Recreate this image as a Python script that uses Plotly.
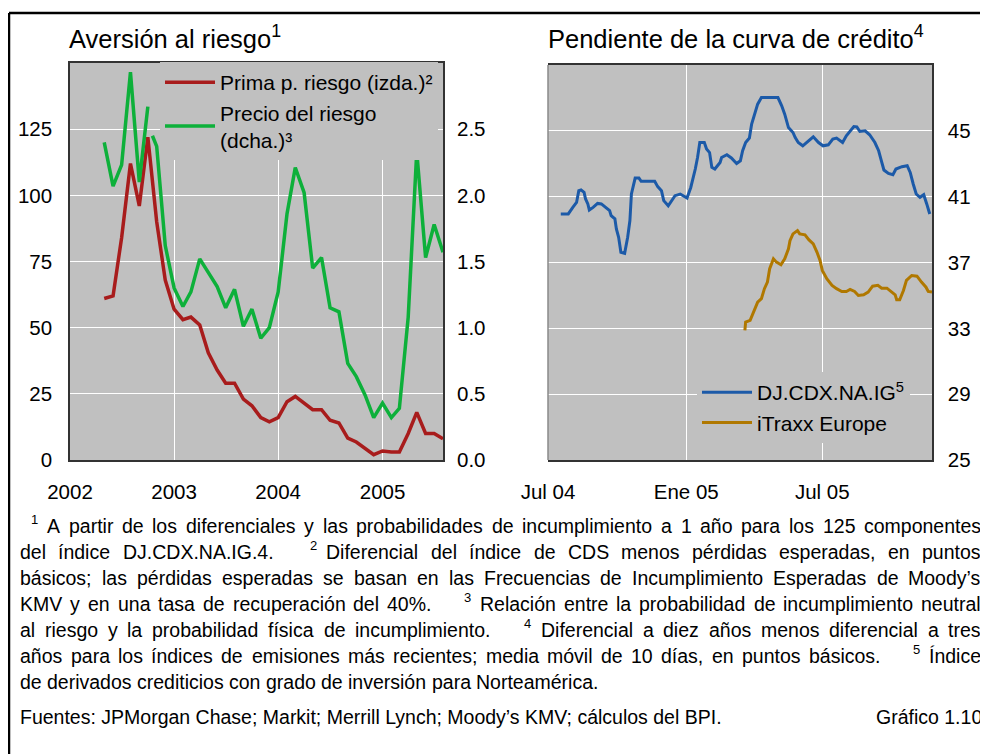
import pandas as pd
import plotly.graph_objects as go

W, H = 988, 754
FONT = "Liberation Sans, Arial, sans-serif"
PAGE_OFFSET = 8  # the page body adds an 8px margin around the figure

# --- Aversión al riesgo (monthly, May 2002 - Aug 2005) ---
risk_months = pd.date_range("2002-05-01", "2005-08-01", freq="MS")
prima_riesgo = [61, 62, 84, 112, 96, 122, 90, 68, 57, 53, 54, 51, 40.5, 34, 29, 29,
                23, 20.5, 16, 14.4, 16, 22, 24, 21.6, 19, 19, 15, 14, 8.3, 6.8, 4.5, 2,
                3.4, 3, 3, 10, 18, 10, 10, 8]
precio_riesgo = [2.40, 2.07, 2.23, 2.93, 2.10, 2.67, 2.37, 1.62, 1.30, 1.16, 1.27, 1.52,
                 1.42, 1.31, 1.15, 1.29, 1.01, 1.14, 0.92, 1.00, 1.27, 1.86, 2.21, 2.02,
                 1.45, 1.53, 1.15, 1.12, 0.73, 0.63, 0.49, 0.32, 0.43, 0.32, 0.39, 1.08,
                 2.33, 1.53, 1.78, 1.57]
# short break in the green series in Oct 2002
precio_extra_dates = ["2002-10-09", "2002-10-17"]
precio_extra = [None, 2.45]

# --- Pendiente de la curva de crédito (10-day moving average) ---
cdx_dates = ["2004-07-18", "2004-07-28", "2004-08-03", "2004-08-08", "2004-08-11", "2004-08-14",
             "2004-08-18", "2004-08-20", "2004-08-23", "2004-08-25", "2004-08-30", "2004-09-05",
             "2004-09-10", "2004-09-15", "2004-09-21", "2004-09-23", "2004-09-28", "2004-09-30",
             "2004-10-03", "2004-10-06", "2004-10-11", "2004-10-15", "2004-10-18", "2004-10-20",
             "2004-10-23", "2004-10-25", "2004-10-30", "2004-11-02", "2004-11-20", "2004-11-24",
             "2004-11-29", "2004-12-02", "2004-12-08", "2004-12-17", "2004-12-24", "2005-01-02",
             "2005-01-07", "2005-01-10", "2005-01-13", "2005-01-16", "2005-01-19", "2005-01-25",
             "2005-01-28", "2005-02-01", "2005-02-04", "2005-02-08", "2005-02-15", "2005-02-17",
             "2005-02-24", "2005-03-02", "2005-03-09", "2005-03-14", "2005-03-17", "2005-03-21",
             "2005-03-26", "2005-03-29", "2005-04-02", "2005-04-06", "2005-04-11", "2005-05-03",
             "2005-05-08", "2005-05-12", "2005-05-17", "2005-05-23", "2005-05-26", "2005-05-30",
             "2005-06-05", "2005-06-12", "2005-06-19", "2005-06-26", "2005-07-02", "2005-07-09",
             "2005-07-15", "2005-07-20", "2005-07-28", "2005-08-02", "2005-08-07", "2005-08-12",
             "2005-08-16", "2005-08-20", "2005-08-27", "2005-09-02", "2005-09-09", "2005-09-14",
             "2005-09-17", "2005-09-21", "2005-09-27", "2005-10-03", "2005-10-07", "2005-10-15",
             "2005-10-22", "2005-10-26", "2005-10-30", "2005-11-03", "2005-11-08", "2005-11-13",
             "2005-11-17", "2005-11-21"]
cdx_values = [39.95, 39.95, 40.35, 40.65, 41.36, 41.41, 41.26, 40.86, 40.56, 40.19, 40.35, 40.59,
              40.56, 40.35, 40.15, 39.85, 39.65, 39.04, 38.53, 37.62, 37.56, 38.53, 39.55, 41.16,
              41.77, 42.13, 42.13, 41.93, 41.93, 41.61, 41.36, 40.76, 40.45, 41.06, 41.16, 40.92,
              41.56, 42.07, 42.68, 43.38, 44.29, 44.29, 43.89, 43.68, 42.78, 42.68, 43.08, 43.38,
              43.55, 43.35, 43.02, 43.18, 43.79, 44.29, 44.56, 45.41, 46.01, 46.62, 47.02, 47.02,
              46.52, 46.01, 45.20, 44.90, 44.59, 44.29, 44.09, 44.39, 44.64, 44.29, 44.09, 44.15,
              44.50, 44.56, 44.29, 44.70, 45.00, 45.26, 45.24, 44.96, 45.00, 44.76, 44.29, 43.79,
              43.28, 42.62, 42.41, 42.33, 42.68, 42.82, 42.88, 42.47, 41.77, 41.16, 40.96, 41.12,
              40.56, 39.95]
itraxx_dates = ["2005-03-20", "2005-03-21", "2005-03-27", "2005-03-31", "2005-04-06", "2005-04-11",
                "2005-04-15", "2005-04-19", "2005-04-22", "2005-04-27", "2005-05-01", "2005-05-07",
                "2005-05-12", "2005-05-17", "2005-05-19", "2005-05-23", "2005-05-29", "2005-06-01",
                "2005-06-08", "2005-06-13", "2005-06-19", "2005-06-24", "2005-06-28", "2005-07-01",
                "2005-07-07", "2005-07-14", "2005-07-20", "2005-07-27", "2005-08-02", "2005-08-07",
                "2005-08-13", "2005-08-18", "2005-08-25", "2005-08-31", "2005-09-06", "2005-09-13",
                "2005-09-18", "2005-09-25", "2005-10-01", "2005-10-06", "2005-10-08", "2005-10-12",
                "2005-10-17", "2005-10-21", "2005-10-28", "2005-11-04", "2005-11-10", "2005-11-16",
                "2005-11-19", "2005-11-24"]
itraxx_values = [32.88, 33.38, 33.48, 33.89, 34.59, 34.80, 35.41, 35.81, 36.62, 37.22, 37.02, 36.86,
                 37.22, 37.83, 38.33, 38.74, 38.94, 38.74, 38.68, 38.39, 38.13, 37.62, 37.12, 36.52,
                 36.01, 35.61, 35.41, 35.24, 35.24, 35.36, 35.24, 35.00, 35.04, 35.20, 35.56, 35.61,
                 35.44, 35.44, 35.20, 35.04, 34.74, 34.74, 35.30, 35.91, 36.21, 36.17, 35.81, 35.50,
                 35.24, 35.20]

left_ticks = ["2002-01-01", "2003-01-01", "2004-01-01", "2005-01-01"]
left_ticktext = ["2002", "2003", "2004", "2005"]
right_ticks = ["2004-07-01", "2005-01-01", "2005-07-01"]
right_ticktext = ["Jul 04", "Ene 05", "Jul 05"]

footnote_lines = [
    "^1 A partir de los diferenciales y las probabilidades de incumplimiento a 1 año para los 125 componentes",
    "del índice DJ.CDX.NA.IG.4. ^2 Diferencial del índice de CDS menos pérdidas esperadas, en puntos",
    "básicos; las pérdidas esperadas se basan en las Frecuencias de Incumplimiento Esperadas de Moody’s",
    "KMV y en una tasa de recuperación del 40%. ^3 Relación entre la probabilidad de incumplimiento neutral",
    "al riesgo y la probabilidad física de incumplimiento. ^4 Diferencial a diez años menos diferencial a tres",
    "años para los índices de emisiones más recientes; media móvil de 10 días, en puntos básicos. ^5 Índice",
    "de derivados crediticios con grado de inversión para Norteamérica.",
]
sources = "Fuentes: JPMorgan Chase; Markit; Merrill Lynch; Moody’s KMV; cálculos del BPI."
chart_no = "Gráfico 1.10"

# Arial / Liberation Sans advance widths (1/1000 em), used to justify the notes
_groups = {
    191: "'", 222: "ijl’", 278: " .,;:!fIt/íÍ", 333: "()-r", 500: "cksvxyzJ",
    556: "abdeghnopqu0123456789áéóúñL", 611: "FTZ", 667: "ABEKPSVXY",
    722: "CDHNRUw", 778: "GOQ", 833: "mM", 889: "%", 944: "W",
}
CHAR_W = {c: w for w, chars in _groups.items() for c in chars}


def text_w(s, size):
    return sum(CHAR_W.get(c, 556) for c in s) * size / 1000.0


def px(x):
    # screen pixel -> paper fraction
    return (x - PAGE_OFFSET) / W


def py(y):
    return 1 - (y - PAGE_OFFSET) / H


months = list(risk_months)
precio = pd.Series(precio_riesgo, index=months, dtype="float")
precio = pd.concat([precio, pd.Series(precio_extra, index=pd.to_datetime(precio_extra_dates), dtype="float")]).sort_index()

fig = go.Figure()
fig.add_trace(go.Scatter(x=months, y=prima_riesgo, mode="lines", name="Prima p. riesgo (izda.)²",
                         line=dict(color="#a81c1c", width=3.5), xaxis="x", yaxis="y", legend="legend"))
fig.add_trace(go.Scatter(x=precio.index, y=precio.values, mode="lines", name="Precio del riesgo<br>(dcha.)³",
                         line=dict(color="#0db03a", width=3.5), connectgaps=False,
                         xaxis="x", yaxis="y2", legend="legend"))
fig.add_trace(go.Scatter(x=cdx_dates, y=cdx_values, mode="lines", name="DJ.CDX.NA.IG<sup>5</sup>",
                         line=dict(color="#1c5aa8", width=3), xaxis="x2", yaxis="y3", legend="legend2"))
fig.add_trace(go.Scatter(x=itraxx_dates, y=itraxx_values, mode="lines", name="iTraxx Europe",
                         line=dict(color="#b07800", width=3), xaxis="x2", yaxis="y3", legend="legend2"))

tick_font = dict(family=FONT, size=20.5, color="#000")
axis_common = dict(showline=True, linecolor="#333", linewidth=1.5, mirror=True, ticks="",
                   gridcolor="#ffffff", gridwidth=1, zeroline=False, tickfont=tick_font,
                   automargin=False)

fig.update_layout(
    width=W, height=H, autosize=False,
    margin=dict(l=0, r=0, t=0, b=0, pad=0, autoexpand=False),
    paper_bgcolor="#ffffff", plot_bgcolor="#c0c0c0",
    font=dict(family=FONT, color="#000"),
    xaxis=dict(domain=[px(70), px(443)], anchor="y", type="date",
               range=["2002-01-01", "2005-08-01"], tickvals=left_ticks, ticktext=left_ticktext,
               showgrid=True, ticklabelstandoff=13, **axis_common),
    yaxis=dict(domain=[py(460), py(63)], anchor="x", range=[0, 150],
               tickvals=[0, 25, 50, 75, 100, 125], showgrid=True, ticklabelstandoff=12, **axis_common),
    yaxis2=dict(overlaying="y", anchor="x", side="right", range=[0, 3],
                tickvals=[0, 0.5, 1.0, 1.5, 2.0, 2.5], tickformat=".1f", showgrid=False,
                showline=False, zeroline=False, ticks="", tickfont=tick_font, ticklabelstandoff=13,
                automargin=False),
    xaxis2=dict(domain=[px(548), px(932)], anchor="y3", type="date",
                range=["2004-07-01", "2005-11-24"], tickvals=right_ticks, ticktext=right_ticktext,
                showgrid=True, ticklabelstandoff=13, **axis_common),
    yaxis3=dict(domain=[py(460), py(65)], anchor="x2", side="right", range=[25, 49],
                tickvals=[25, 29, 33, 37, 41, 45], showgrid=True, ticklabelstandoff=10,
                **{**axis_common, "mirror": False}),
    legend=dict(x=px(160), y=py(62), xanchor="left", yanchor="top", bgcolor="#c0c0c0",
                font=dict(family=FONT, size=21), itemwidth=50, tracegroupgap=0),
    legend2=dict(x=px(697), y=py(372), xanchor="left", yanchor="top", bgcolor="#c0c0c0",
                 font=dict(family=FONT, size=21), itemwidth=50, tracegroupgap=0),
    showlegend=True,
)

# lighter left edge of the right panel
fig.add_shape(type="line", xref="x2 domain", yref="y3 domain", x0=0, x1=0, y0=0, y1=1,
              line=dict(color="#8a8a8a", width=1.5))

# outer frame (top and left rules)
fig.add_shape(type="line", xref="paper", yref="paper", x0=px(9), x1=1, y0=py(13), y1=py(13),
              line=dict(color="#000", width=2.5))
fig.add_shape(type="line", xref="paper", yref="paper", x0=px(9), x1=px(9), y0=py(13), y1=0,
              line=dict(color="#000", width=2.5))

ann = dict(xref="paper", yref="paper", showarrow=False, borderpad=0, borderwidth=0)
fig.add_annotation(text="Aversión al riesgo<sup>1</sup>", x=px(69), y=py(37), xanchor="left",
                   yanchor="middle", font=dict(family=FONT, size=25.5), **ann)
fig.add_annotation(text="Pendiente de la curva de crédito<sup>4</sup>", x=px(548), y=py(37),
                   xanchor="left", yanchor="middle", font=dict(family=FONT, size=25.5), **ann)

# justified footnotes, one annotation per word
FOOT_SIZE = 19.5
SUP_SIZE = 13
FOOT_Y = [526, 552, 578, 604, 630, 656, 682]
FOOT_X0 = [31, 20, 20, 20, 20, 20, 20]
FOOT_X1 = 981
SUP_GAP = 9
SUP_LEAD = 24
for i, line in enumerate(footnote_lines):
    toks = line.split(" ")
    widths = [text_w(t[1:], SUP_SIZE) if t.startswith("^") else text_w(t, FOOT_SIZE) for t in toks]
    stretch = [not t.startswith("^") for t in toks[:-1]]
    fixed = sum(widths) + SUP_GAP * stretch.count(False)
    fixed += SUP_LEAD * sum(1 for t in toks[1:] if t.startswith("^"))
    if i < len(footnote_lines) - 1:
        gap = (FOOT_X1 - FOOT_X0[i] - fixed) / max(stretch.count(True), 1)
    else:
        gap = text_w(" ", FOOT_SIZE)
    x = FOOT_X0[i]
    for j, t in enumerate(toks):
        if t.startswith("^"):
            if j > 0:
                x += SUP_LEAD
            fig.add_annotation(text=t[1:], x=px(x), y=py(FOOT_Y[i]), xanchor="left", yanchor="middle",
                               yshift=7, font=dict(family=FONT, size=SUP_SIZE), **ann)
        else:
            fig.add_annotation(text=t, x=px(x), y=py(FOOT_Y[i]), xanchor="left", yanchor="middle",
                               font=dict(family=FONT, size=FOOT_SIZE), **ann)
        x += widths[j]
        if j < len(toks) - 1:
            x += gap if stretch[j] else SUP_GAP

fig.add_annotation(text=sources, x=px(20), y=py(717), xanchor="left", yanchor="middle",
                   font=dict(family=FONT, size=FOOT_SIZE), **ann)
fig.add_annotation(text=chart_no, x=px(982), y=py(717), xanchor="right", yanchor="middle",
                   font=dict(family=FONT, size=FOOT_SIZE), **ann)

fig.write_html("out.html")
